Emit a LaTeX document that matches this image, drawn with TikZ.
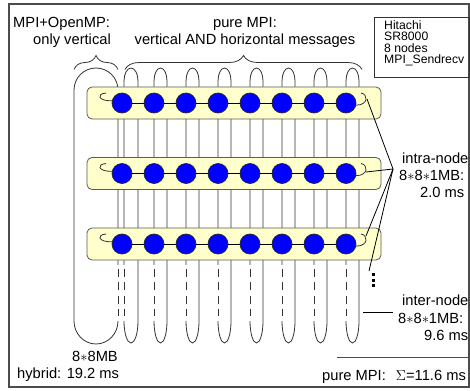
\documentclass[tikz,border=0pt]{standalone}
\usepackage{fontspec}
\setmainfont{Liberation Sans}
\usetikzlibrary{decorations.pathreplacing}
\definecolor{smpyellow}{RGB}{255,255,204}
\definecolor{procblue}{RGB}{0,0,255}
\newcommand{\astr}{\ensuremath{\ast}}
\begin{document}
\begin{tikzpicture}[x=1pt,y=-1pt,
  lbl/.style={font=\fontsize{14.7}{16}\selectfont, inner sep=0pt},
  smalllbl/.style={font=\fontsize{12.2}{11.4}\selectfont, inner sep=0pt, align=left},
  proc/.style={circle, fill=procblue, draw=black!85, line width=0.7pt, minimum size=20pt, inner sep=0pt},
  smpbox/.style={rectangle, draw=black!65, fill=smpyellow, rounded corners=5pt, line width=0.8pt, minimum width=294pt, minimum height=32pt, inner sep=0pt},
  msg/.style={draw=black!80, line width=0.8pt},
  msgdash/.style={msg, dash pattern=on 8pt off 5.33pt},
  link/.style={draw=black, line width=0.8pt},
  frame/.style={draw=black!70, line width=1.2pt},
  brc/.style={draw=black!80, line width=0.8pt, decorate, decoration={brace, amplitude=14pt}}]

\useasboundingbox (0,0) rectangle (470,390);
\draw[frame] (9,4) rectangle (469,387);

% hybrid (MPI+OpenMP) loop
\draw[msg] (118,265) -- (118,90) arc[start angle=0,end angle=-180,x radius=22,y radius=22]
  -- (74,321) arc[start angle=180,end angle=0,x radius=22,y radius=23];
\draw[msgdash] (118,269) -- (118,316);

% pure MPI loops
\foreach \i in {0,...,7}{
  \pgfmathsetmacro{\xl}{122+32*\i+(\i==0 ? 2 : 0)}
  \pgfmathsetmacro{\xr}{122+32*\i+(\i==0 ? 16 : 13)}
  \pgfmathsetmacro{\rx}{(\xr-\xl)/2}
  \draw[msg] (\xl,265) -- (\xl,81) arc[start angle=180,end angle=360,x radius=\rx,y radius=13]
    -- (\xr,321) arc[start angle=0,end angle=180,x radius=\rx,y radius=22];
  \draw[msgdash] (\xl,269) -- (\xl,316);
}

% SMP rows
\foreach \r/\y in {1/103,2/173.5,3/244}{
  \node[smpbox] (box\r) at (234,\y) {};
  \foreach \i in {0,...,7}{
    \node[proc] (p\r\i) at (122+32*\i,\y) {};
  }
  \foreach \i [evaluate=\i as \j using int(\i+1)] in {0,...,6}{
    \draw[link] (p\r\i) -- (p\r\j);
  }
  \draw[msg] (106,\y-10) .. controls (96,\y-9) and (98,\y-2) .. (p\r0.168);
  \draw[msg] (p\r7.-12) .. controls (369,\y+2) and (368,\y-9) .. (361,\y-10);
}

% intra-node pointers
\coordinate (intra) at (393,169);
\coordinate (t1) at (367,99);
\coordinate (t2) at (366,172);
\coordinate (t3) at (366,236);
\coordinate (t4) at (369,271);
\foreach \t in {t1,t2,t3,t4} \draw[link] (intra) -- (\t);
\foreach \d in {273,278.5,284} \fill (371.5,\d) rectangle ++(3,3);

% inter-node pointer
\coordinate (interA) at (363,312);
\coordinate (interB) at (393,312);
\draw[link] (interA) -- (interB);

% separator
\coordinate (sepA) at (337,357);
\coordinate (sepB) at (469,357);
\draw[frame, line width=1pt] (sepA) -- (sepB);

% braces
\draw[brc] (74,69.5) -- (118,69.5);
\draw[brc] (125,69.5) -- (362,69.5);

% labels
\node[lbl, anchor=base west] (l1) at (13,28) {MPI+OpenMP:};
\node[lbl, anchor=base west] (l2) at (33,45) {only vertical};
\node[lbl, anchor=base] (l3) at (245,28) {pure MPI:};
\node[lbl, anchor=base] (l4) at (245,45) {vertical AND horizontal messages};

\node[lbl, anchor=base west] (l5) at (402,163) {intra-node};
\node[lbl, anchor=base west] (l6) at (399,180) {8\astr8\astr1MB:};
\node[lbl, anchor=base west] (l7) at (420,197) {2.0 ms};

\node[lbl, anchor=base west] (l8) at (402,305) {inter-node};
\node[lbl, anchor=base west] (l9) at (398,323) {8\astr8\astr1MB:};
\node[lbl, anchor=base west] (l10) at (424,340) {9.6 ms};

\node[lbl, anchor=base] (l11) at (95,361) {8\astr8MB};
\node[lbl, anchor=base west] (l12) at (17,378) {hybrid: 19.2 ms};
\node[lbl, anchor=base west] (l13) at (322,380) {pure MPI:\hspace{10pt}$\Sigma$=11.6 ms};

% machine box
\node[draw=black!80, line width=0.8pt, minimum width=95pt, minimum height=60pt, anchor=north west, inner sep=0pt] (hitachi) at (374,17) {};
\node[smalllbl, anchor=north west] (hitxt) at (384,20.5) {Hitachi\\SR8000\\8 nodes\\MPI\_Sendrecv};
\end{tikzpicture}
\end{document}
